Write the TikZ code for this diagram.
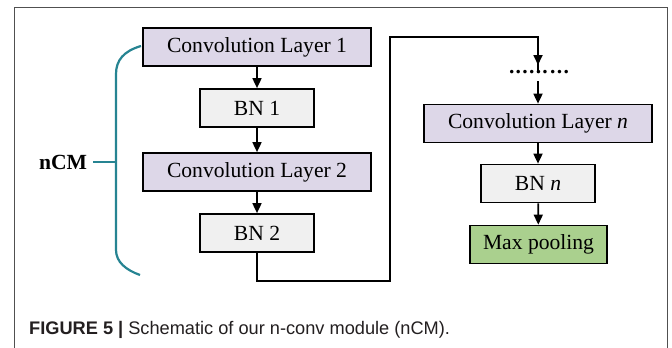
\documentclass[tikz,border=0pt]{standalone}
\usepackage{fontspec}
\setmainfont{Liberation Serif}
\newfontfamily\capfont{Liberation Sans}
\usetikzlibrary{arrows.meta}
\definecolor{convfill}{RGB}{221,215,232}
\definecolor{bnfill}{RGB}{240,240,240}
\definecolor{poolfill}{RGB}{170,208,142}
\definecolor{braceteal}{RGB}{38,132,146}
\definecolor{captxt}{RGB}{35,31,32}
\definecolor{framegray}{RGB}{80,80,80}
\tikzset{
  blk/.style={draw=black, line width=1.7pt, minimum height=38pt, inner sep=0pt,
    font=\fontsize{21.6}{23}\selectfont, text=black},
  convbox/.style={blk, fill=convfill, minimum width=228pt},
  bnbox/.style={blk, fill=bnfill, minimum width=114pt},
  poolbox/.style={blk, fill=poolfill, minimum width=137pt},
  conn/.style={line width=1.7pt, -{Triangle[width=9pt,length=10pt]}},
  plainconn/.style={line width=1.7pt},
  bracestyle/.style={draw=braceteal, line width=2.2pt},
}
\begin{document}
\begin{tikzpicture}[x=1pt,y=-1pt]
\useasboundingbox (0,0) rectangle (672,348);
\clip (0,0) rectangle (672,348);
\fill[white] (0,0) rectangle (672,348);
\draw[framegray, line width=1pt] (14,7) rectangle (667,370);
% left column
\node[convbox] (c1) at (257,47) {Convolution Layer 1};
\node[bnbox] (b1) at (257,108) {BN 1};
\node[convbox] (c2) at (257,172) {Convolution Layer 2};
\node[bnbox] (b2) at (257,233) {BN 2};
% right column
\node[inner sep=0pt, minimum height=16pt, font=\fontsize{21.6}{23}\selectfont\bfseries] (dots) at (539,72)
  {.\hspace{1.3pt}.\hspace{1.3pt}.\hspace{1.3pt}.\hspace{1.3pt}.\hspace{1.3pt}.\hspace{2.3pt}.\hspace{1.3pt}.\hspace{1.3pt}.};
\node[convbox] (cn) at (538,123.5) {Convolution Layer \textit{n}};
\node[bnbox] (bn) at (538,183.5) {BN \textit{n}};
\node[poolbox] (mp) at (538.5,244.5) {Max pooling};
% connectors
\draw[conn] (c1) -- (b1);
\draw[conn] (b1) -- (c2);
\draw[conn] (c2) -- (b2);
\coordinate (k1) at (390,281);
\coordinate (k2) at (390,37);
\coordinate (dtop) at (538,65);
\coordinate (dbot) at (538,81);
\draw[plainconn] (b2.south) |- (k1) -- (k2) -| ([yshift=-8pt]dtop);
\draw[conn] (538,36.2) -- (dtop);
\draw[conn] (dbot) -- (cn);
\draw[conn] (cn) -- (bn);
\draw[conn] (bn) -- (mp);
% brace
\draw[bracestyle] (141,46) .. controls (124,51) and (116,60) .. (116,74) -- (116,250) .. controls (116,262) and (126,270) .. (140,275);
\node[font=\fontsize{21.6}{23}\selectfont\bfseries] (ncm) at (63,162) {nCM};
\draw[bracestyle] (93,162) -- (116,162);
% caption
\node[anchor=base west, inner sep=0pt, font=\capfont\fontsize{18.2}{20}\selectfont, text=captxt] (cap) at (29,334)
  {\textbf{FIGURE 5 |} Schematic of our n-conv module (nCM).};
\end{tikzpicture}
\end{document}
